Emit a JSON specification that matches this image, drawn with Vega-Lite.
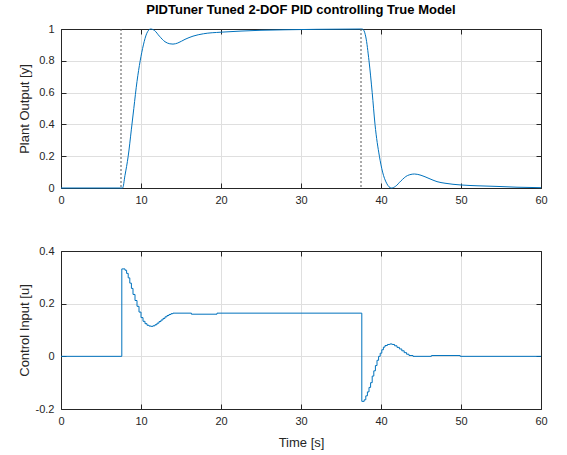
{
  "$schema": "https://vega.github.io/schema/vega-lite/v6.json",
  "padding": {"left": 18, "top": 4, "right": 5, "bottom": 5},
  "background": "white",
  "datasets": {
    "yout": [
      {"t": 0, "v": 0}, {"t": 7.5, "v": 0}, {"t": 7.7, "v": 0.0}, {"t": 8.0, "v": 0.08}, {"t": 8.4, "v": 0.2},
      {"t": 8.8, "v": 0.37}, {"t": 9.1, "v": 0.5}, {"t": 9.5, "v": 0.67}, {"t": 9.9, "v": 0.8}, {"t": 10.3, "v": 0.9},
      {"t": 10.7, "v": 0.97}, {"t": 11.2, "v": 1.0}, {"t": 11.7, "v": 0.99}, {"t": 12.3, "v": 0.955}, {"t": 13.0, "v": 0.92},
      {"t": 13.6, "v": 0.907}, {"t": 14.0, "v": 0.905}, {"t": 14.6, "v": 0.912}, {"t": 15.5, "v": 0.935}, {"t": 16.5, "v": 0.955},
      {"t": 17.8, "v": 0.97}, {"t": 20, "v": 0.98}, {"t": 22.5, "v": 0.987}, {"t": 25, "v": 0.992}, {"t": 28, "v": 0.995},
      {"t": 32, "v": 0.998}, {"t": 37.6, "v": 1.0}, {"t": 37.8, "v": 0.995}, {"t": 38.1, "v": 0.95}, {"t": 38.5, "v": 0.8},
      {"t": 38.9, "v": 0.6}, {"t": 39.25, "v": 0.4}, {"t": 39.8, "v": 0.2}, {"t": 40.2, "v": 0.1}, {"t": 40.7, "v": 0.03},
      {"t": 41.3, "v": 0.0}, {"t": 41.8, "v": 0.01}, {"t": 42.5, "v": 0.045}, {"t": 43.3, "v": 0.078}, {"t": 44.2, "v": 0.088},
      {"t": 45.0, "v": 0.08}, {"t": 46, "v": 0.06}, {"t": 47, "v": 0.04}, {"t": 48, "v": 0.03}, {"t": 50, "v": 0.019},
      {"t": 52, "v": 0.014}, {"t": 54.5, "v": 0.01}, {"t": 57, "v": 0.005}, {"t": 60, "v": 0.002}
    ],
    "uout": [
      {"t": 0, "v": 0}, {"t": 7.6, "v": 0.332}, {"t": 8.0, "v": 0.327}, {"t": 8.2, "v": 0.315}, {"t": 8.4, "v": 0.298},
      {"t": 8.6, "v": 0.278}, {"t": 8.8, "v": 0.258}, {"t": 9.0, "v": 0.235}, {"t": 9.25, "v": 0.212}, {"t": 9.5, "v": 0.19},
      {"t": 9.75, "v": 0.168}, {"t": 10.0, "v": 0.147}, {"t": 10.25, "v": 0.133}, {"t": 10.5, "v": 0.124}, {"t": 10.75, "v": 0.118},
      {"t": 11.0, "v": 0.115}, {"t": 11.25, "v": 0.114}, {"t": 11.5, "v": 0.116}, {"t": 11.75, "v": 0.12}, {"t": 12.0, "v": 0.126},
      {"t": 12.25, "v": 0.132}, {"t": 12.5, "v": 0.138}, {"t": 12.75, "v": 0.144}, {"t": 13.0, "v": 0.15}, {"t": 13.25, "v": 0.155},
      {"t": 13.5, "v": 0.159}, {"t": 13.75, "v": 0.162}, {"t": 14.0, "v": 0.164}, {"t": 16.3, "v": 0.16}, {"t": 19.5, "v": 0.164},
      {"t": 37.6, "v": -0.171}, {"t": 37.9, "v": -0.165}, {"t": 38.1, "v": -0.15}, {"t": 38.3, "v": -0.135}, {"t": 38.5, "v": -0.118},
      {"t": 38.7, "v": -0.1}, {"t": 38.9, "v": -0.075}, {"t": 39.1, "v": -0.055}, {"t": 39.3, "v": -0.035}, {"t": 39.5, "v": -0.015},
      {"t": 39.7, "v": 0.0}, {"t": 39.9, "v": 0.012}, {"t": 40.1, "v": 0.025}, {"t": 40.3, "v": 0.035}, {"t": 40.5, "v": 0.041},
      {"t": 40.8, "v": 0.045}, {"t": 41.1, "v": 0.047}, {"t": 41.4, "v": 0.045}, {"t": 41.7, "v": 0.04}, {"t": 42.0, "v": 0.034},
      {"t": 42.3, "v": 0.028}, {"t": 42.6, "v": 0.021}, {"t": 42.9, "v": 0.014}, {"t": 43.2, "v": 0.008}, {"t": 43.5, "v": 0.003},
      {"t": 44.0, "v": 0.0}, {"t": 46.3, "v": 0.003}, {"t": 49.9, "v": 0.0}, {"t": 60, "v": 0}
    ],
    "ev": [{"t": 7.5}, {"t": 37.5}]
  },
  "vconcat": [
    {
      "width": 480,
      "height": 159,
      "title": {"text": "PIDTuner Tuned 2-DOF PID controlling True Model", "fontSize": 13, "fontWeight": "bold", "color": "#000000", "offset": 6, "anchor": "middle"},
      "layer": [
        {
          "data": {"name": "yout"},
          "mark": {"type": "line", "color": "#0072BD", "strokeWidth": 1, "interpolate": "monotone"},
          "encoding": {
            "x": {"field": "t", "type": "quantitative", "scale": {"domain": [0, 60], "nice": false, "zero": false},
                  "axis": {"values": [0, 10, 20, 30, 40, 50, 60], "title": null, "grid": true, "labelPadding": 11}},
            "y": {"field": "v", "type": "quantitative", "scale": {"domain": [0, 1], "nice": false},
                  "axis": {"values": [0, 0.2, 0.4, 0.6, 0.8, 1], "labelExpr": "'' + datum.value", "title": "Plant Output [y]", "grid": true, "labelPadding": 12, "titleX": -30}}
          }
        },
        {
          "data": {"name": "ev"},
          "mark": {"type": "rule", "color": "#555555", "strokeDash": [2, 2], "strokeWidth": 1},
          "encoding": {
            "x": {"field": "t", "type": "quantitative", "axis": null}
          }
        },
        {
          "data": {"name": "yout"},
          "mark": {"type": "line", "strokeOpacity": 0},
          "encoding": {
            "x": {"field": "t", "type": "quantitative", "axis": {"orient": "top", "values": [0, 10, 20, 30, 40, 50, 60], "labels": false, "grid": false, "title": null}},
            "y": {"field": "v", "type": "quantitative", "axis": {"orient": "right", "values": [0, 0.2, 0.4, 0.6, 0.8, 1], "labels": false, "grid": false, "title": null}}
          }
        }
      ],
      "resolve": {"axis": {"x": "independent", "y": "independent"}}
    },
    {
      "width": 480,
      "height": 158,
      "layer": [
        {
          "data": {"name": "uout"},
          "mark": {"type": "line", "color": "#0072BD", "strokeWidth": 1, "interpolate": "step-after"},
          "encoding": {
            "x": {"field": "t", "type": "quantitative", "scale": {"domain": [0, 60], "nice": false, "zero": false},
                  "axis": {"values": [0, 10, 20, 30, 40, 50, 60], "title": "Time [s]", "grid": true, "labelPadding": 11, "titleBaseline": "top", "titleY": 27}},
            "y": {"field": "v", "type": "quantitative", "scale": {"domain": [-0.2, 0.4], "nice": false},
                  "axis": {"values": [-0.2, 0, 0.2, 0.4], "labelExpr": "'' + datum.value", "title": "Control Input [u]", "grid": true, "labelPadding": 12, "titleX": -30}}
          }
        },
        {
          "data": {"name": "uout"},
          "mark": {"type": "line", "strokeOpacity": 0},
          "encoding": {
            "x": {"field": "t", "type": "quantitative", "axis": {"orient": "top", "values": [0, 10, 20, 30, 40, 50, 60], "labels": false, "grid": false, "title": null}},
            "y": {"field": "v", "type": "quantitative", "axis": {"orient": "right", "values": [-0.2, 0, 0.2, 0.4], "labels": false, "grid": false, "title": null}}
          }
        }
      ],
      "resolve": {"axis": {"x": "independent", "y": "independent"}}
    }
  ],
  "spacing": 63,
  "bounds": "flush",
  "config": {
    "font": "Liberation Sans",
    "view": {"stroke": null},
    "axis": {
      "domainColor": "#262626", "tickColor": "#262626", "labelColor": "#262626", "titleColor": "#262626",
      "labelFont": "Liberation Sans", "titleFont": "Liberation Sans",
      "labelFontSize": 11, "titleFontSize": 13, "titleFontWeight": "normal",
      "gridColor": "#dfdfdf", "gridWidth": 1, "tickSize": -5, "domainWidth": 1, "labelFlush": false, "labelOverlap": false
    }
  }
}
